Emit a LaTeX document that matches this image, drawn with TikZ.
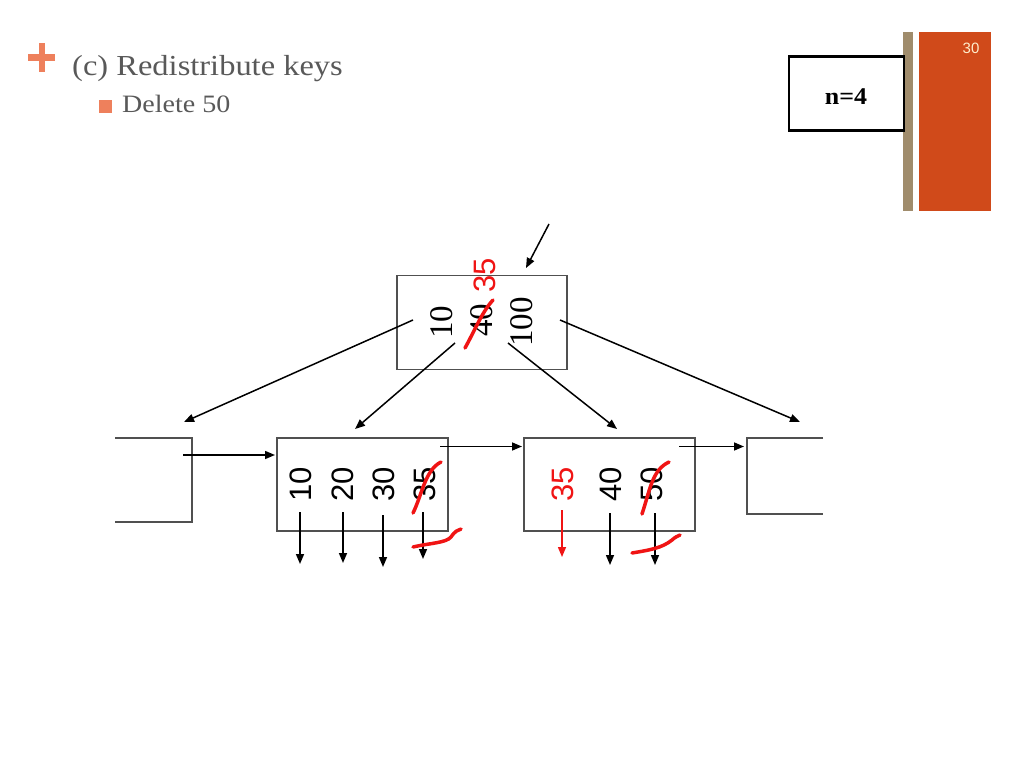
\documentclass[tikz,border=0pt]{standalone}
\usepackage{fontspec}
\setmainfont{Liberation Serif}
\newfontfamily\sansf{Liberation Sans}
\usetikzlibrary{arrows.meta}
\definecolor{txtgrey}{RGB}{89,89,89}
\definecolor{accent}{RGB}{238,128,92}
\definecolor{barorange}{RGB}{208,74,26}
\definecolor{bartan}{RGB}{160,140,108}
\definecolor{pagenum}{RGB}{255,238,205}
\definecolor{boxgrey}{RGB}{80,80,80}
\definecolor{inkred}{RGB}{240,20,20}
\tikzset{
  keybox/.style={draw=boxgrey, line width=1.4pt, minimum width=171pt, minimum height=93pt, inner sep=0pt},
  rootkey/.style={rotate=90, font=\fontsize{33}{33}\selectfont, inner sep=0pt},
  leafkey/.style={rotate=90, font=\sansf\fontsize{31}{31}\selectfont, inner sep=0pt},
  arr/.style={line width=1.5pt, -{Triangle[length=10pt,width=8pt]}},
  redarr/.style={line width=1.5pt, inkred, -{Triangle[length=10pt,width=8pt]}},
  strike/.style={inkred, line width=3.5pt, line cap=round},
  partbox/.style={draw=boxgrey, line width=1.4pt}
}
\begin{document}
\begin{tikzpicture}[x=1pt,y=-1pt]
\useasboundingbox (0,0) rectangle (1024,768);
\fill[white] (0,0) rectangle (1024,768);

% header
\fill[accent] (28,54.5) rectangle (55,60.5);
\fill[accent] (38.5,43) rectangle (44.5,72);
\node[anchor=base west, inner sep=0pt, text=txtgrey, font=\fontsize{29}{29}\selectfont, xscale=1.12] (title) at (72,75) {(c) Redistribute keys};
\fill[accent] (99,100) rectangle (112,113);
\node[anchor=base west, inner sep=0pt, text=txtgrey, font=\fontsize{25}{25}\selectfont, xscale=1.12] (sub) at (122,112) {Delete 50};

% n=4 box and side bars
\fill[bartan] (903,32) rectangle (913,211);
\fill[barorange] (919,32) rectangle (991,211);
\node[draw=black, line width=2.2pt, fill=white, minimum width=115pt, minimum height=74pt, inner sep=0pt] (nbox) at (846.5,93.5) {};
\node[font=\fontsize{24}{24}\selectfont\bfseries, xscale=1.08] (nlabel) at (846,97) {n=4};
\node[font=\sansf\fontsize{15}{15}\selectfont, text=pagenum] (pnum) at (971,48) {30};

% root
\node[keybox, minimum width=170pt, minimum height=94pt] (root) at (482,322.5) {};
\node[rootkey] (r10) at (442,322) {10};
\node[rootkey] (r40) at (482,320) {40};
\node[rootkey] (r100) at (522,322) {100};
\node[leafkey, text=inkred] (r35) at (485,275) {35};
\draw[strike] (465,348) .. controls (475,330) and (482,312) .. (493,300);

\coordinate (topstart) at (549,224);
\coordinate (topend) at (526,268);
\draw[arr] (topstart) -- (topend);

% leaves
\draw[partbox] (115,438) -- (192,438) -- (192,522) -- (115,522);
\coordinate (leafA) at (153,480);
\node[keybox] (leafB) at (362.5,484.5) {};
\node[keybox] (leafC) at (609.5,484.5) {};
\draw[partbox] (823,438) -- (747,438) -- (747,514) -- (823,514);
\coordinate (leafD) at (785,476);

\node[leafkey] (b10) at (301,484) {10};
\node[leafkey] (b20) at (343,484) {20};
\node[leafkey] (b30) at (384,484) {30};
\node[leafkey] (b35) at (425,484) {35};
\node[leafkey, text=inkred] (c35) at (563,484) {35};
\node[leafkey] (c40) at (611,484) {40};
\node[leafkey] (c50) at (652,484) {50};

% root pointers
\coordinate (p1s) at (413,320); \coordinate (p1e) at (184,422);
\coordinate (p2s) at (455,343); \coordinate (p2e) at (355,429);
\coordinate (p3s) at (508,343); \coordinate (p3e) at (617,429);
\coordinate (p4s) at (560,320); \coordinate (p4e) at (800,422);
\draw[arr] (p1s) -- (p1e);
\draw[arr] (p2s) -- (p2e);
\draw[arr] (p3s) -- (p3e);
\draw[arr] (p4s) -- (p4e);

% sibling pointers
\coordinate (s1s) at (183,455); \coordinate (s1e) at (275,455);
\coordinate (s2s) at (440,446.5); \coordinate (s2e) at (522,446.5);
\coordinate (s3s) at (679,446.5); \coordinate (s3e) at (744,446.5);
\draw[arr] (s1s) -- (s1e);
\draw[arr] (s2s) -- (s2e);
\draw[arr] (s3s) -- (s3e);

% child pointers
\coordinate (b1s) at (300,512); \coordinate (b1e) at (300,564);
\coordinate (b2s) at (343,512); \coordinate (b2e) at (343,563);
\coordinate (b3s) at (383,515); \coordinate (b3e) at (383,567);
\coordinate (b4s) at (423,512); \coordinate (b4e) at (423,559);
\coordinate (c1s) at (562,510); \coordinate (c1e) at (562,557);
\coordinate (c2s) at (610,513); \coordinate (c2e) at (610,565);
\coordinate (c3s) at (655,513); \coordinate (c3e) at (655,565);
\draw[arr] (b1s) -- (b1e);
\draw[arr] (b2s) -- (b2e);
\draw[arr] (b3s) -- (b3e);
\draw[arr] (b4s) -- (b4e);
\draw[redarr] (c1s) -- (c1e);
\draw[arr] (c2s) -- (c2e);
\draw[arr] (c3s) -- (c3e);

% red strikes
\draw[strike] (413,513) .. controls (422,495) and (425,470) .. (441,462);
\draw[strike] (413,547) .. controls (430,543) and (446,543) .. (451,537) .. controls (455,531) and (458,530) .. (461,529);
\draw[strike] (642,514) .. controls (650,490) and (652,470) .. (669,462);
\draw[strike] (632,553) .. controls (650,550) and (662,548) .. (672,540) .. controls (675,537) and (678,536) .. (680,535);
\end{tikzpicture}
\end{document}
